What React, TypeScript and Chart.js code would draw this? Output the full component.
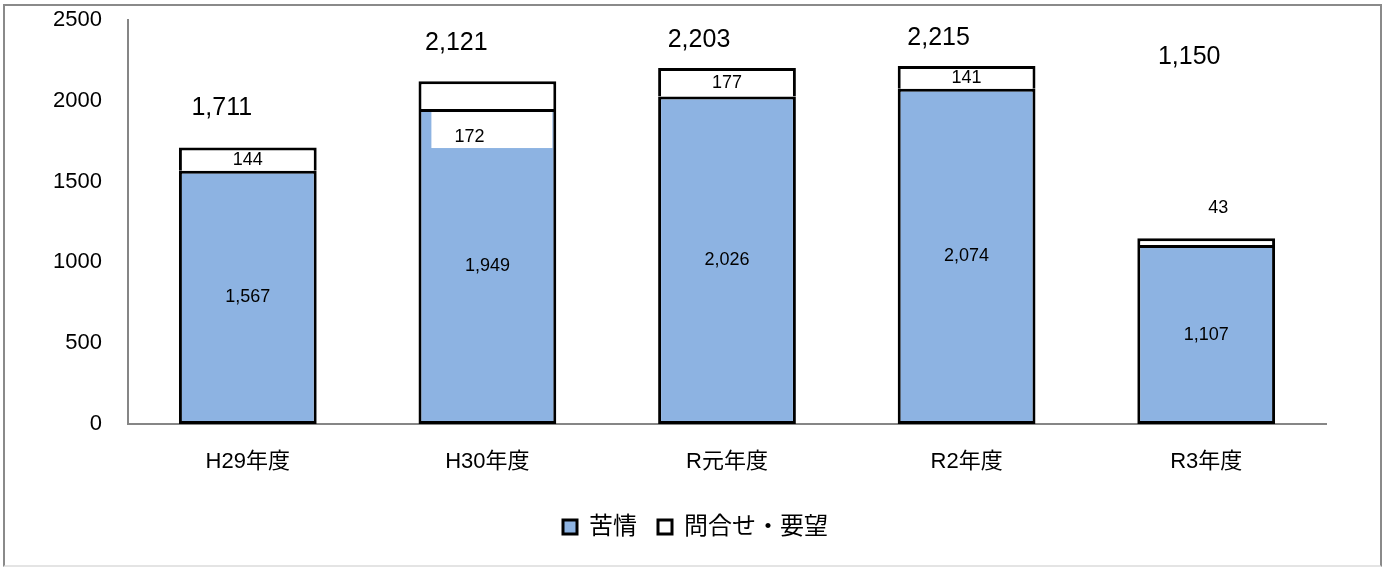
import React, { useEffect, useRef } from "react";
import { Chart, registerables } from "chart.js";

Chart.register(...registerables);

const categories = ["H29年度", "H30年度", "R元年度", "R2年度", "R3年度"];
const complaints = [1567, 1949, 2026, 2074, 1107];
const inquiries = [144, 172, 177, 141, 43];
const totals = [1711, 2121, 2203, 2215, 1150];
const seriesNames = ["苦情", "問合せ・要望"];
const yMin = 0;
const yMax = 2500;
const yStep = 500;

const FONT = "'Liberation Sans', 'Noto Sans CJK JP', sans-serif";
const fmt = (v: number) => v.toLocaleString("en-US");

// label placement tweaks in pixels (style only)
const totalOffsets = [
  [-26, -39],
  [-31, -38],
  [-28, -28],
  [-28, -28],
  [-17, -181],
];

const labelPlugin = {
  id: "barLabels",
  afterDatasetsDraw(chart: any) {
    const ctx = chart.ctx;
    const m0 = chart.getDatasetMeta(0);
    const m1 = chart.getDatasetMeta(1);
    ctx.save();
    ctx.fillStyle = "#000";
    ctx.textAlign = "center";
    ctx.textBaseline = "middle";
    ctx.font = `18px ${FONT}`;
    m0.data.forEach((el: any, i: number) => {
      ctx.fillText(fmt(complaints[i]), el.x, (el.y + el.base) / 2);
    });
    m1.data.forEach((el: any, i: number) => {
      const txt = fmt(inquiries[i]);
      if (i === 1) {
        ctx.fillStyle = "#fff";
        ctx.fillRect(el.x - 56, el.base + 3, 121, 36);
        ctx.fillStyle = "#000";
        ctx.fillText(txt, el.x - 18, el.base + 28);
      } else if (i === 4) {
        ctx.fillText(txt, el.x + 12, el.y - 30);
      } else {
        ctx.fillText(txt, el.x, (el.y + el.base) / 2 + 1);
      }
    });
    ctx.font = `25px ${FONT}`;
    m1.data.forEach((el: any, i: number) => {
      const [dx, dy] = totalOffsets[i];
      ctx.fillText(fmt(totals[i]), el.x + dx, el.y + dy);
    });
    ctx.restore();
  },
};

export default function App() {
  const ref = useRef<HTMLCanvasElement>(null);
  useEffect(() => {
    if (!ref.current) return;
    const chart = new Chart(ref.current, {
      type: "bar",
      data: {
        labels: categories,
        datasets: [
          {
            label: seriesNames[0],
            data: complaints,
            backgroundColor: "#8DB3E2",
            borderColor: "#000",
            borderWidth: 3,
            borderSkipped: false,
          },
          {
            label: seriesNames[1],
            data: inquiries,
            backgroundColor: "#fff",
            borderColor: "#000",
            borderWidth: 3,
            borderSkipped: "bottom",
          },
        ],
      },
      options: {
        responsive: false,
        animation: false,
        layout: { padding: { left: 0, right: 0, top: 20, bottom: 18 } },
        datasets: {
          bar: { categoryPercentage: 1, barPercentage: 0.575 },
        },
        scales: {
          x: {
            stacked: true,
            grid: { display: false, drawTicks: false },
            border: { display: true, color: "#868686", width: 2 },
            ticks: { color: "#000", font: { family: FONT, size: 22 }, padding: 25 },
            afterFit: (s: any) => {
              s.height = 70;
            },
          },
          y: {
            stacked: true,
            min: yMin,
            max: yMax,
            grid: { display: false, drawTicks: false },
            border: { display: true, color: "#868686", width: 2 },
            ticks: {
              stepSize: yStep,
              color: "#000",
              font: { family: FONT, size: 22 },
              padding: 26,
              callback: (v: any) => String(v),
            },
            afterFit: (s: any) => {
              s.width = 128;
              s.paddingTop = 0;
              s.paddingBottom = 0;
            },
          },
          yRight: {
            position: "right",
            display: true,
            min: yMin,
            max: yMax,
            grid: { display: false, drawTicks: false },
            border: { display: false },
            ticks: { display: false },
            afterFit: (s: any) => {
              s.width = 65;
              s.paddingTop = 0;
              s.paddingBottom = 0;
            },
          },
        },
        plugins: {
          legend: {
            position: "bottom",
            labels: {
              color: "#000",
              font: { family: FONT, size: 24 },
              boxWidth: 14,
              boxHeight: 14,
              padding: 21,
            },
          },
          tooltip: { enabled: false },
        },
      },
      plugins: [labelPlugin],
    });
    return () => chart.destroy();
  }, []);
  return (
    <div style={{ position: "fixed", left: 0, top: 0, width: 1391, height: 567, background: "#fff" }}>
      <div
        style={{
          position: "absolute",
          left: 3,
          top: 4,
          width: 1379,
          height: 563,
          boxSizing: "border-box",
          borderTop: "2px solid #8a8a8a",
          borderLeft: "2px solid #8a8a8a",
          borderRight: "2px solid #8a8a8a",
          borderBottom: "2px solid #e4e4e4",
        }}
      />
      <canvas ref={ref} width={1391} height={567} style={{ position: "absolute", left: 0, top: 0 }} />
    </div>
  );
}
